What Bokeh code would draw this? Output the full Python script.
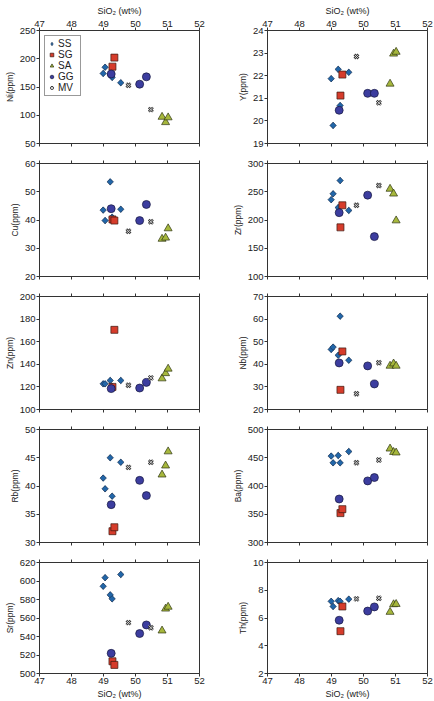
import math
from bokeh.plotting import figure
from bokeh.models import LinearAxis, Range1d, FixedTicker, Legend, LegendItem
from bokeh.layouts import column, row
from bokeh.embed import file_html
from bokeh.resources import INLINE

# ---------------- data ----------------
SERIES = ["SS", "SG", "SA", "GG", "MV"]
SIO2_TICKS = [47, 48, 49, 50, 51, 52]

SS_SIO2 = [48.99, 49.05, 49.21, 49.27, 49.54]
SG_SIO2 = [49.28, 49.34]
SA_SIO2 = [50.83, 50.94, 51.02]
GG_SIO2 = [49.24, 50.13, 50.34]
MV_SIO2 = [49.78, 50.48]

NI = {"SS": [174, 185, 172, 167, 157.5], "SG": [186, 202], "SA": [97, 87.5, 96],
      "GG": [173, 155, 168], "MV": [153, 110]}
Y = {"SS": [21.87, 19.8, 22.28, 20.68, 22.15], "SG": [21.12, 22.05], "SA": [21.64, 22.97, 23.05],
     "GG": [20.47, 21.22, 21.22], "MV": [22.85, 20.8]}
CU = {"SS": [43.5, 39.8, 53.5, 41.0, 43.8], "SG": [40.2, 39.8], "SA": [33.3, 33.7, 37.0],
      "GG": [44.0, 39.8, 45.5], "MV": [36.0, 39.4]}
ZR = {"SS": [236, 246.4, 222, 269.8, 217], "SG": [187, 226], "SA": [255, 246.5, 199],
      "GG": [213, 244, 170.6], "MV": [226, 261]}
ZN = {"SS": [122.7, 122.7, 125.7, 120.5, 125.7], "SG": [120, 170.5], "SA": [127.4, 132, 136],
      "GG": [118.5, 119, 124], "MV": [121.5, 128]}
NB = {"SS": [46.6, 47.6, 44.0, 61.3, 41.8], "SG": [28.7, 45.7], "SA": [39.3, 40.3, 39.3],
      "GG": [40.6, 39.3, 31.3], "MV": [27.0, 40.7]}
RB = {"SS": [41.4, 39.5, 45.0, 38.2, 44.2], "SG": [32.0, 32.7], "SA": [42.0, 43.6, 46.1],
      "GG": [36.7, 41.0, 38.3], "MV": [43.3, 44.2]}
BA = {"SS": [453, 441, 454, 441, 461], "SG": [352, 359], "SA": [466, 460, 459],
      "GG": [377, 409, 415], "MV": [441, 446]}
SR = {"SS": [594.3, 603.6, 585, 580.7, 607], "SG": [513.2, 509.3], "SA": [546.3, 570, 572],
      "GG": [521.8, 543.2, 552.5], "MV": [555, 549.5]}
TH = {"SS": [7.2, 6.83, 7.25, 7.2, 7.36], "SG": [5.05, 6.83], "SA": [6.43, 6.98, 7.0],
      "GG": [5.84, 6.5, 6.8], "MV": [7.38, 7.43]}

NI_TICKS = [50, 100, 150, 200, 250]
Y_TICKS = [19, 20, 21, 22, 23, 24]
CU_TICKS = [20, 30, 40, 50, 60]
ZR_TICKS = [100, 150, 200, 250, 300]
ZN_TICKS = [100, 120, 140, 160, 180, 200]
NB_TICKS = [20, 30, 40, 50, 60, 70]
RB_TICKS = [30, 35, 40, 45, 50]
BA_TICKS = [300, 350, 400, 450, 500]
SR_TICKS = [500, 520, 540, 560, 580, 600, 620]
TH_TICKS = [2, 4, 6, 8, 10]

PANELS = [
    ("Ni(ppm)", NI, NI_TICKS), ("Y(ppm)", Y, Y_TICKS),
    ("Cu(ppm)", CU, CU_TICKS), ("Zr(ppm)", ZR, ZR_TICKS),
    ("Zn(ppm)", ZN, ZN_TICKS), ("Nb(ppm)", NB, NB_TICKS),
    ("Rb(ppm)", RB, RB_TICKS), ("Ba(ppm)", BA, BA_TICKS),
    ("Sr(ppm)", SR, SR_TICKS), ("Th(ppm)", TH, TH_TICKS),
]
X_OF = {"SS": SS_SIO2, "SG": SG_SIO2, "SA": SA_SIO2, "GG": GG_SIO2, "MV": MV_SIO2}

FONT = "Liberation Sans"
TXT = "#222222"

SS_STYLE = dict(fill_color="#2266a8", line_color="#1b2d4a", line_width=0.6)
SG_STYLE = dict(marker="square", fill_color="#d63c2b", line_color="#3b1810", line_width=0.7)
SA_STYLE = dict(marker="triangle", fill_color="#a6b73c", line_color="#2e3512", line_width=0.7)
GG_STYLE = dict(marker="circle", fill_color="#3c3d9f", line_color="#15173d", line_width=0.7)


def style_axis(ax, show_labels):
    ax.axis_line_color = "#333333"
    ax.major_tick_line_color = "#333333"
    ax.major_tick_out = 3
    ax.major_tick_in = 0
    ax.minor_tick_line_color = None
    ax.major_label_text_font = FONT
    ax.major_label_text_color = TXT
    ax.axis_label_text_font = FONT
    ax.axis_label_text_color = TXT
    ax.axis_label_text_font_style = "normal"
    ax.axis_label_text_font_size = "9px"
    ax.major_label_standoff = 1
    ax.axis_label_standoff = 2
    if show_labels:
        ax.major_label_text_font_size = "9.5px"
    else:
        ax.major_label_text_font_size = "1px"
        ax.major_label_text_color = None
        ax.major_label_standoff = 0


def make_panel(idx):
    label, data, ticks = PANELS[idx]
    col = idx % 2
    r = idx // 2
    top = r == 0
    bottom = r == 4
    b_top = 30 if top else 10
    b_bot = 26 if bottom else 10
    h = b_top + 113 + b_bot
    p = figure(width=217, height=h,
               x_range=Range1d(47, 52), y_range=Range1d(ticks[0], ticks[-1]),
               output_backend="svg", toolbar_location=None,
               x_axis_location=None, y_axis_location="left",
               min_border_left=39 if col == 0 else 50,
               min_border_right=18 if col == 0 else 7,
               min_border_top=b_top, min_border_bottom=b_bot)
    p.xgrid.visible = False
    p.ygrid.visible = False
    p.outline_line_color = "#333333"
    p.outline_line_width = 1
    p.background_fill_color = "white"
    p.border_fill_color = "white"

    yax = p.yaxis[0]
    yax.ticker = FixedTicker(ticks=ticks)
    yax.axis_label = label
    style_axis(yax, True)
    yax.axis_label_text_font_size = "8.5px"

    xa = LinearAxis(ticker=FixedTicker(ticks=SIO2_TICKS))
    style_axis(xa, top)
    if top:
        xa.axis_label = "SiO₂ (wt%)"
    p.add_layout(xa, "above")
    xb = LinearAxis(ticker=FixedTicker(ticks=SIO2_TICKS))
    style_axis(xb, bottom)
    if bottom:
        xb.axis_label = "SiO₂ (wt%)"
    p.add_layout(xb, "below")

    rend = {}
    # diamond underneath (used for the legend), covered by a rotated square
    ss_dia = p.scatter(X_OF["SS"], data["SS"], marker="diamond", size=6, **SS_STYLE)
    p.scatter(X_OF["SS"], data["SS"], marker="square", angle=math.pi / 4,
              size=4.6, **SS_STYLE)
    rend["SS"] = [ss_dia]
    rend["SG"] = [p.scatter(X_OF["SG"], data["SG"], size=7, **SG_STYLE)]
    rend["SA"] = [p.scatter(X_OF["SA"], data["SA"], size=8, **SA_STYLE)]
    rend["GG"] = [p.scatter(X_OF["GG"], data["GG"], size=8, **GG_STYLE)]
    rend["MV"] = [p.scatter(X_OF["MV"], data["MV"], marker="x", size=6,
                            line_color="#333333", line_width=2.4),
                  p.scatter(X_OF["MV"], data["MV"], marker="x", size=6,
                            line_color="#dddddd", line_width=0.9)]

    if idx == 0:
        items = [LegendItem(label=s, renderers=rend[s]) for s in SERIES]
        leg = Legend(items=items, location="top_left")
        leg.margin = 5
        leg.padding = 2
        leg.spacing = 0
        leg.label_standoff = 2
        leg.glyph_width = 9
        leg.glyph_height = 11
        leg.label_height = 11
        leg.label_text_font = FONT
        leg.label_text_font_size = "10px"
        leg.label_text_color = TXT
        leg.border_line_color = "#333333"
        leg.border_line_width = 1
        leg.background_fill_color = "white"
        leg.background_fill_alpha = 1
        p.add_layout(leg, "center")
    return p


figs = [make_panel(i) for i in range(10)]
layout = column(*[row(figs[2 * r], figs[2 * r + 1]) for r in range(5)])

open("out.html", "w").write(file_html(layout, INLINE))
